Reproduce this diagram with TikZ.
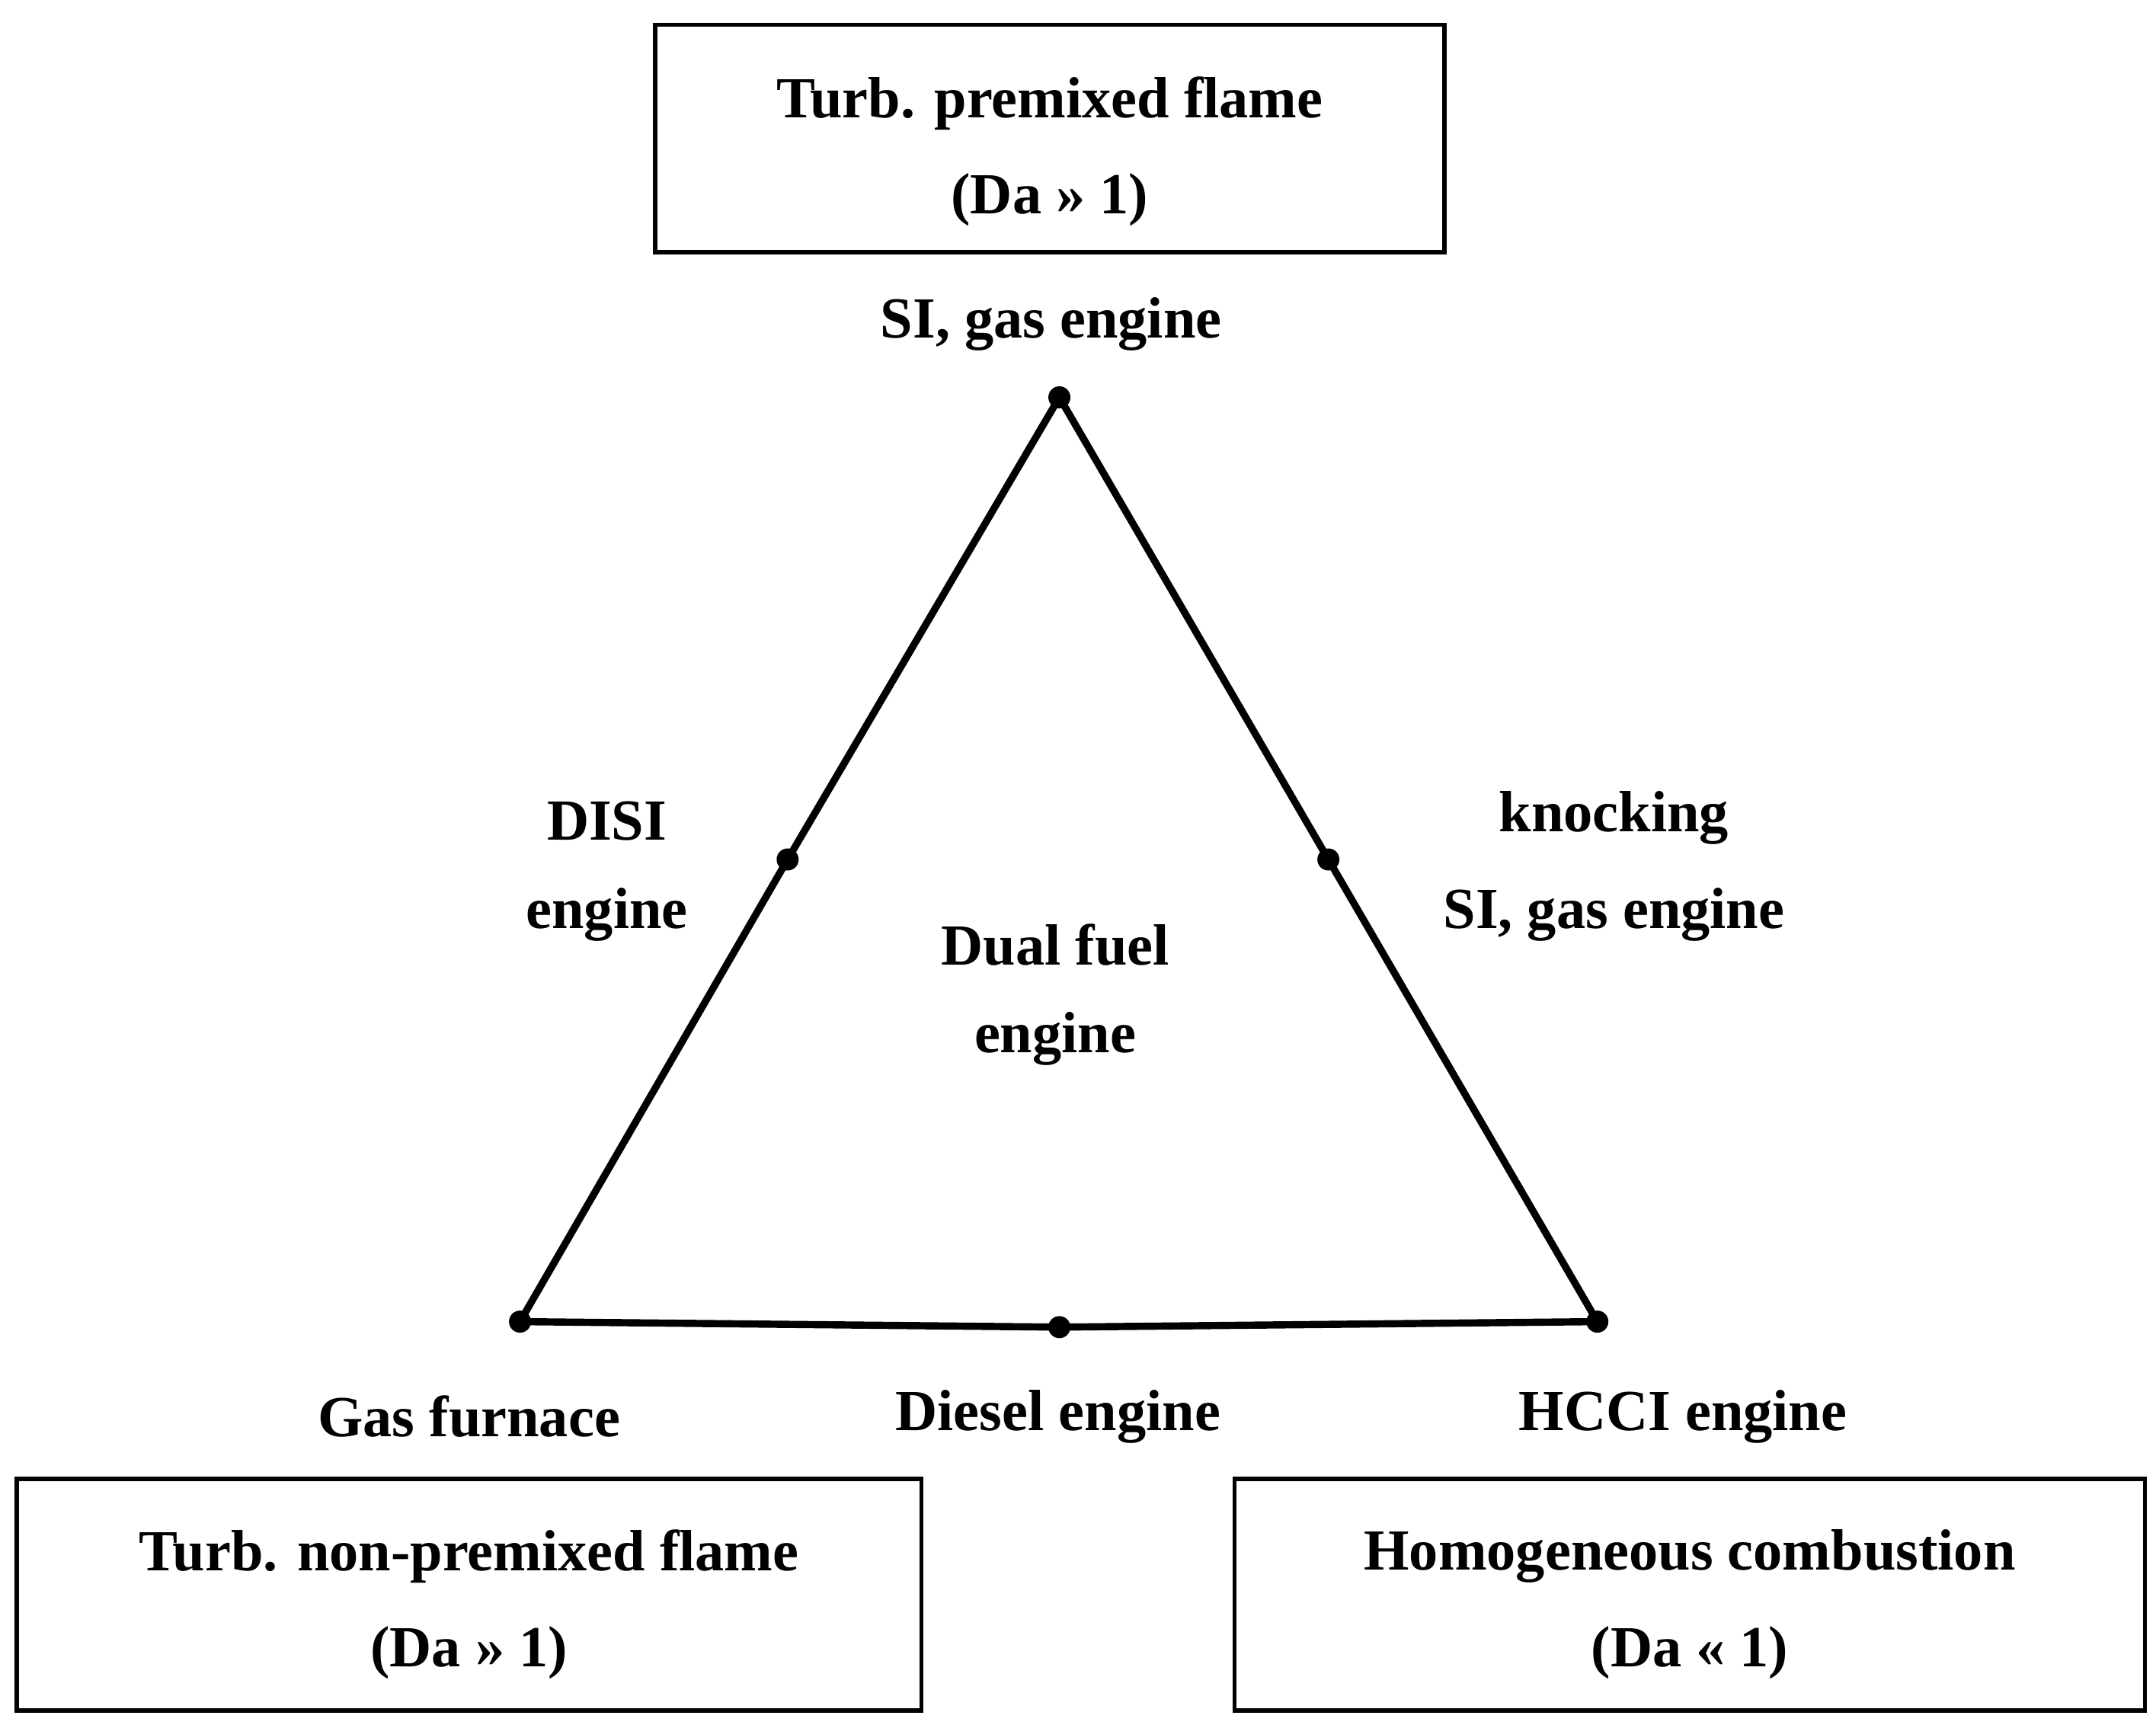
\documentclass[tikz,border=0pt]{standalone}
\usepackage{fontspec}
\setmainfont{Liberation Serif}
\begin{document}
\begin{tikzpicture}[x=0.5mm,y=-0.5mm,
  lbl/.style={font=\fontsize{60}{72}\selectfont\bfseries,inner sep=0pt,align=center},
  box/.style={draw,line width=1.6mm},
  dot/.style={circle,fill=black,minimum size=8mm,inner sep=0pt},
  edge/.style={line width=2.6mm}]
\useasboundingbox (0,0) rectangle (1563,1250);
\node[box,minimum width=286mm,minimum height=82.5mm] (top) at (761,100.5) {};
\node[lbl] (t1) at (761,75) {Turb. premixed flame};
\node[lbl] (t2) at (761,145) {(Da >> 1)};
\node[box,minimum width=328mm,minimum height=84mm] (bl) at (340,1156) {};
\node[lbl] (b1) at (340,1128) {Turb. non-premixed flame};
\node[lbl] (b2) at (340,1198) {(Da >> 1)};
\node[box,minimum width=330mm,minimum height=84mm] (br) at (1225,1156) {};
\node[lbl] (r1) at (1225,1128) {Homogeneous combustion};
\node[lbl] (r2) at (1225,1198) {(Da << 1)};
\node[dot] (A) at (768,288) {};
\node[dot] (B) at (377,958) {};
\node[dot] (C) at (1158,958) {};
\node[dot] (AB) at (571,623) {};
\node[dot] (AC) at (963,623) {};
\node[dot] (BC) at (768,962) {};
\draw[edge] (A.center) -- (AB.center) -- (B.center) -- (BC.center) -- (C.center) -- (AC.center) -- (A.center);
\node[lbl] (l1) at (762,235) {SI, gas engine};
\node[lbl] (l2) at (440,595) {DISI};
\node[lbl] (l3) at (440,663) {engine};
\node[lbl] (l4) at (1170,593) {knocking};
\node[lbl] (l5) at (1170,663) {SI, gas engine};
\node[lbl] (l6) at (765,685) {Dual fuel};
\node[lbl] (l7) at (765,753) {engine};
\node[lbl] (l8) at (340,1027) {Gas furnace};
\node[lbl] (l9) at (767,1027) {Diesel engine};
\node[lbl] (l10) at (1220,1027) {HCCI engine};
\end{tikzpicture}
\end{document}
